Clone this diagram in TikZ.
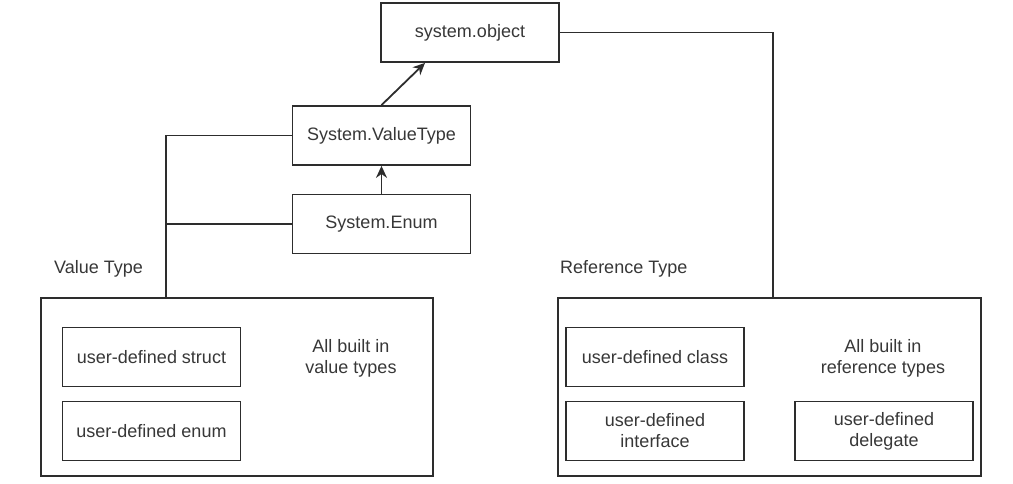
\documentclass[tikz,border=0pt]{standalone}
\usepackage{fontspec}
\setmainfont{Liberation Sans}
\usetikzlibrary{arrows.meta}
\definecolor{linea}{RGB}{45,45,45}
\definecolor{texto}{RGB}{55,55,55}

\begin{document}
\begin{tikzpicture}[x=1pt, y=-1pt, line width=1.8pt, draw=linea,
	font=\fontsize{18}{21}\selectfont, text=texto,
	caja/.style={draw=linea, line width=1.8pt, rectangle, minimum width=178pt, minimum height=59pt, inner sep=0pt, align=center},
	marco/.style={draw=linea, line width=1.8pt, rectangle, inner sep=0pt},
	flecha/.style={-{Stealth[length=12pt, width=11pt]}}]
	\useasboundingbox (0,0) rectangle (1013,484);
	% Jerarquia
		% Cajas
			\node[caja] (object) at (470,32.5) {system.object};
			\node[caja] (valuetype) at (381.5,135.5) {System.ValueType};
			\node[caja] (enum) at (381.5,224) {System.Enum};
		% Flechas
			\draw[flecha] (valuetype.north) -- ([xshift=-45pt]object.south);
			\draw[flecha] (enum.north) -- (valuetype.south);

	% Value Type
		\node[marco, minimum width=392pt, minimum height=178pt] (valuebox) at (237,387) {};
		\node[anchor=west] (valuelabel) at (50,269) {Value Type};
		\node[caja] (struct) at (151.5,357) {user-defined struct};
		\node[caja] (userenum) at (151.5,431) {user-defined enum};
		\node[align=center] (valuetext) at (351,358) {All built in\\value types};
		% Conectores
			\coordinate (vjoin) at (166,298);
			\draw (valuetype.west) -| (vjoin);
			\draw (enum.west) -- (enum.west -| vjoin);

	% Reference Type
		\node[marco, minimum width=423pt, minimum height=178pt] (refbox) at (769.5,387) {};
		\node[anchor=west] (reflabel) at (556,269) {Reference Type};
		\node[caja] (class) at (655,357) {user-defined class};
		\node[caja] (interface) at (655,431) {user-defined\\interface};
		\node[caja] (delegate) at (884,431) {user-defined\\delegate};
		\node[align=center] (reftext) at (883,358) {All built in\\reference types};
		% Conector
			\coordinate (rjoin) at (773,298);
			\draw (object.east) -| (rjoin);
\end{tikzpicture}
\end{document}
